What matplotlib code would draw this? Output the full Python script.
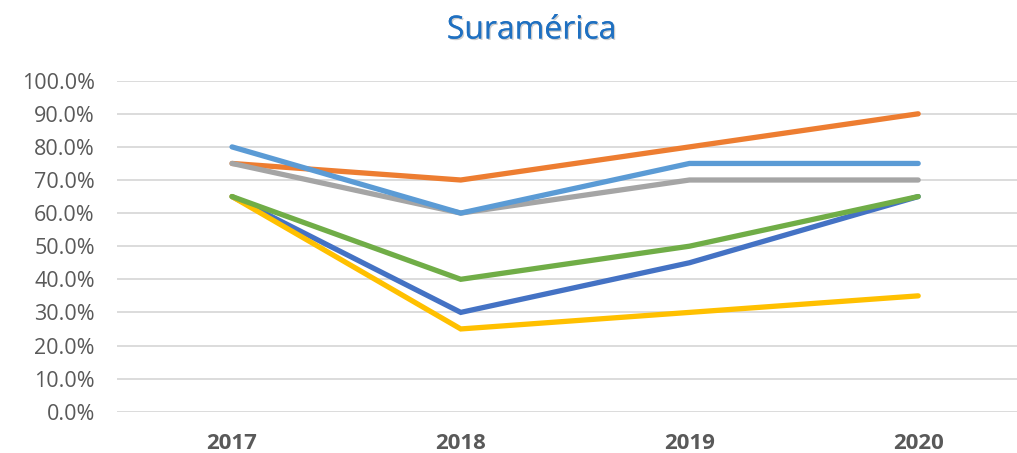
import matplotlib
matplotlib.use("Agg")
import matplotlib.pyplot as plt
import matplotlib.patheffects as pe
from matplotlib.ticker import PercentFormatter

plt.rcParams["font.family"] = ["Open Sans", "DejaVu Sans"]

years = ["2017", "2018", "2019", "2020"]

# series in Excel order (drawing order)
serie_azul = [0.65, 0.30, 0.45, 0.65]
serie_naranja = [0.75, 0.70, 0.80, 0.90]
serie_gris = [0.75, 0.60, 0.70, 0.70]
serie_amarilla = [0.65, 0.25, 0.30, 0.35]
serie_celeste = [0.80, 0.60, 0.75, 0.75]
serie_verde = [0.65, 0.40, 0.50, 0.65]

series = [serie_azul, serie_naranja, serie_gris, serie_amarilla, serie_celeste, serie_verde]
colors = ["#4472C4", "#ED7D31", "#A5A5A5", "#FFC000", "#5B9BD5", "#70AD47"]

fig = plt.figure(figsize=(10.17, 4.53), dpi=100)
ax = fig.add_axes([117 / 1017, 41.3 / 453, 1 - 117 / 1017, (372.3 - 41.3) / 453])

x = range(len(years))
for vals, c in zip(series, colors):
    ax.plot(x, vals, color=c, lw=3.8, solid_capstyle="round",
            solid_joinstyle="miter", clip_on=False, zorder=3)

ax.set_ylim(0, 1)
ax.set_xlim(-0.503, 3.432)
ax.set_yticks([i / 10 for i in range(11)])
ax.yaxis.set_major_formatter(PercentFormatter(1.0, decimals=1))
ax.set_xticks(list(x))
ax.set_xticklabels(years, fontweight="bold")
ax.grid(axis="y", color="#D9D9D9", lw=1.3, zorder=0)
for s in ax.spines.values():
    s.set_visible(False)
ax.tick_params(axis="both", length=0, labelsize=15.5, labelcolor="#595959")
ax.tick_params(axis="y", pad=16)
ax.tick_params(axis="x", pad=15)
for lbl in ax.get_xticklabels():
    lbl.set_fontsize(16)

fig.text(532 / 1017, 1 - 30 / 453, "Suramérica", ha="center", va="center",
         fontsize=23, color="#1F70C1",
         path_effects=[pe.withSimplePatchShadow(offset=(1, -1), shadow_rgbFace="#000000", alpha=0.2),
                       pe.Normal()])

fig.savefig("out.png", dpi=100)
